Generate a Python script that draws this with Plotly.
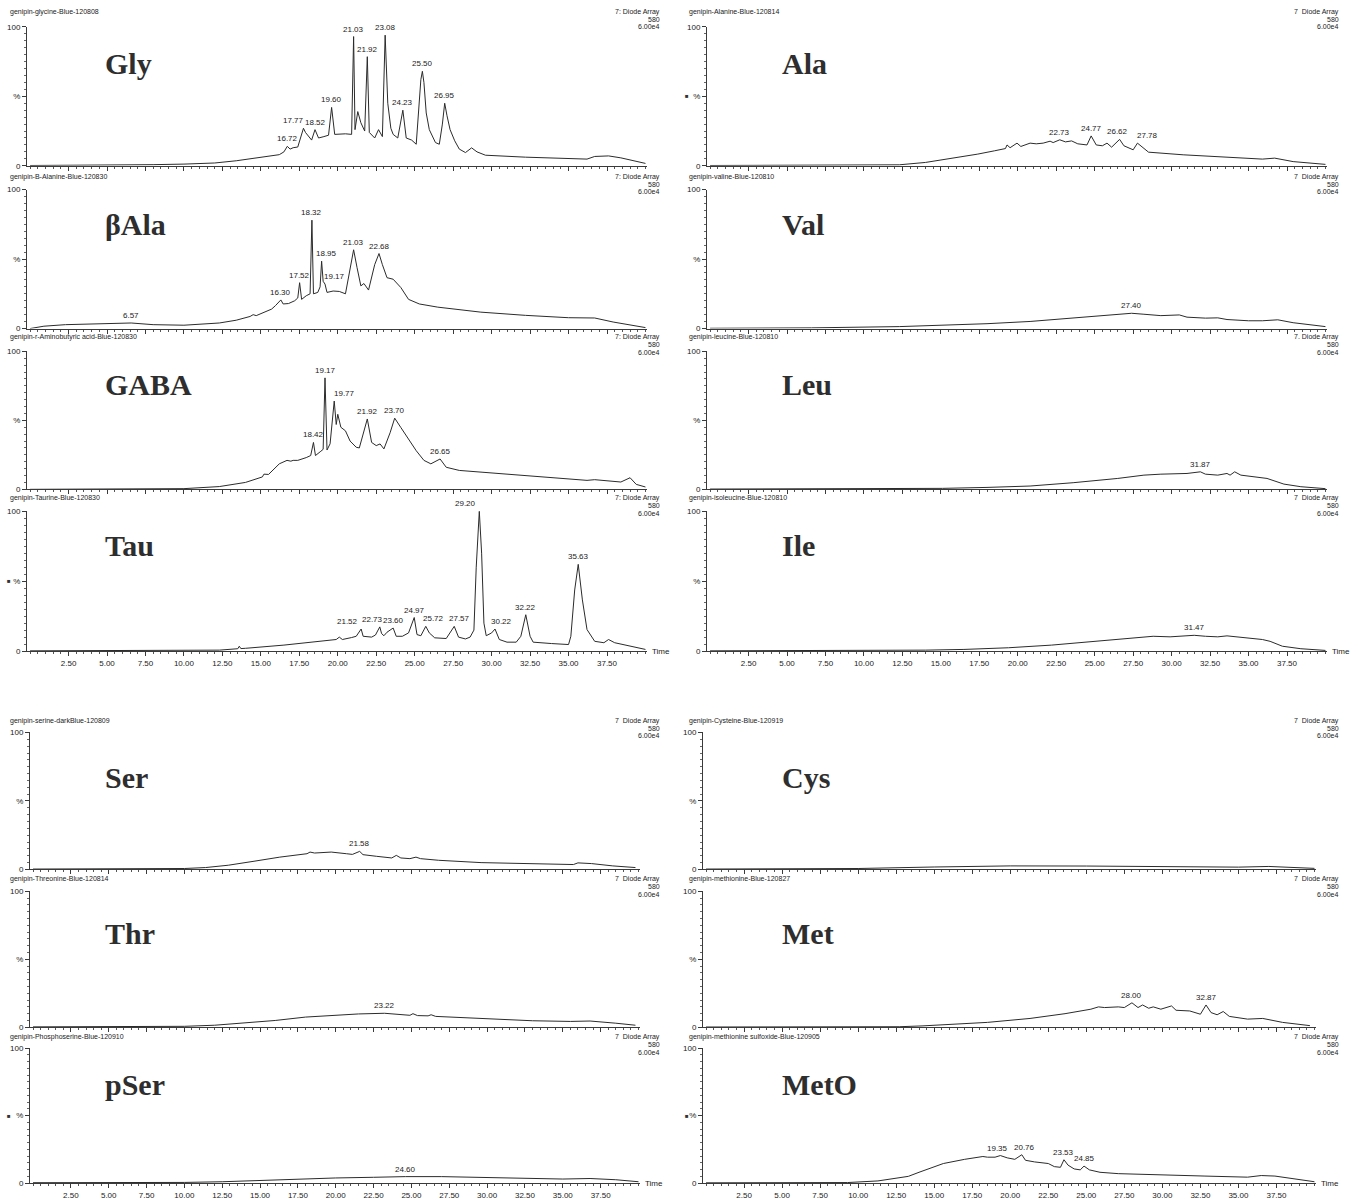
import plotly.graph_objects as go

W, H = 1357, 1201

# ---------------- chromatogram data: retention time (min) / relative intensity (%) ----------------
GLY_T = [0, 3, 6, 8, 10, 12, 13.4, 15.1, 16.2, 16.5, 16.72, 16.9, 17.1, 17.4, 17.6, 17.77, 17.9, 18.1, 18.3,
         18.52, 18.75, 19.1, 19.4, 19.6, 19.8, 20.5, 20.9, 21.03, 21.12, 21.3, 21.5, 21.75, 21.92, 22.05, 22.4,
         22.65, 22.9, 23.08, 23.25, 23.45, 23.6, 23.9, 24.23, 24.45, 24.8, 25.1, 25.3, 25.4, 25.5, 25.6, 25.75,
         25.95, 26.35, 26.6, 26.8, 26.95, 27.1, 27.3, 27.6, 27.9, 28.3, 28.7, 29.05, 29.6, 32.2, 35.0, 36.2,
         36.7, 37.6, 38.4, 40.0]
GLY_I = [0.2, 0.3, 0.5, 0.8, 1.2, 2.0, 3.6, 6.0, 8.0, 10.0, 14.0, 12.0, 13.0, 13.5, 21.0, 27.0, 24.0, 21.0, 18.5,
         26.0, 20.0, 21.0, 22.0, 42.0, 22.6, 23.0, 22.6, 93.0, 26.0, 39.0, 31.0, 25.0, 78.5, 24.0, 20.0,
         26.0, 21.0, 94.0, 45.0, 27.0, 22.6, 20.0, 40.0, 20.0, 18.5, 15.5, 45.0, 62.0, 68.0, 60.0, 38.0,
         26.0, 16.7, 15.5, 30.0, 45.0, 36.0, 26.0, 18.0, 12.0, 9.5, 12.9, 10.0, 7.6, 6.2, 5.0, 4.8,
         6.7, 7.1, 5.7, 1.7]
GLY_PEAKS = [16.72, 17.77, 18.52, 19.60, 21.03, 21.92, 23.08, 24.23, 25.50, 26.95]

BALA_T = [0, 0.9, 2.3, 5.1, 6.57, 8.0, 10.0, 12.3, 13.4, 14.3, 14.5, 14.7, 15.1, 15.7, 15.95, 16.30, 16.45, 16.8,
          17.2, 17.4, 17.52, 17.65, 17.95, 18.2, 18.32, 18.42, 18.7, 18.85, 18.95, 19.05, 19.17, 19.3, 19.7,
          20.1, 20.5, 20.8, 21.03, 21.25, 21.5, 21.7, 22.0, 22.4, 22.68, 22.9, 23.2, 23.6, 24.1, 24.6, 25.3,
          26.5, 29.3, 32.2, 35.0, 36.7, 37.9, 40.0]
BALA_I = [0, 1.7, 2.8, 3.5, 4.0, 2.8, 2.4, 4.0, 6.0, 8.7, 10.0, 9.3, 11.0, 14.0, 16.5, 20.6, 17.7, 18.0,
          20.0, 22.0, 33.0, 21.0, 23.6, 25.0, 78.0, 25.0, 26.0, 30.0, 48.5, 34.0, 32.0, 26.0, 27.0,
          26.7, 25.0, 44.0, 56.7, 44.0, 30.7, 32.4, 27.7, 46.0, 54.0, 46.0, 36.6, 35.5, 29.5, 21.0, 17.7,
          15.4, 11.8, 9.5, 7.8, 7.6, 4.7, 0.7]
BALA_PEAKS = [6.57, 16.30, 17.52, 18.32, 18.95, 19.17, 21.03, 22.68]

GABA_T = [0, 5, 10.0, 12.3, 14.0, 15.1, 15.2, 15.5, 16.2, 16.7, 16.95, 17.1, 17.4, 17.95, 18.24, 18.42, 18.55,
          18.9, 19.05, 19.17, 19.3, 19.5, 19.77, 19.9, 20.0, 20.2, 20.5, 20.8, 21.2, 21.4, 21.92, 22.2, 22.5,
          22.75, 23.0, 23.4, 23.70, 24.1, 24.6, 25.1, 25.6, 26.05, 26.65, 27.05, 27.9, 29.3, 32.2, 35.0, 36.2,
          36.7, 38.4, 39.0, 39.4, 40.0]
GABA_I = [0, 0.2, 0.5, 2.0, 5.0, 9.0, 11.0, 10.8, 18.5, 21.0, 20.4, 21.0, 21.0, 23.0, 24.5, 34.0, 24.5,
          27.6, 29.0, 80.8, 28.5, 33.0, 64.0, 47.0, 54.4, 45.0, 42.4, 35.0, 30.5, 30.0, 51.0, 34.0, 31.7,
          32.9, 29.3, 41.0, 51.6, 44.8, 36.5, 28.0, 21.0, 18.5, 22.0, 16.0, 13.7, 12.5, 10.0, 7.7, 6.5,
          7.0, 5.3, 8.4, 3.6, 1.7]
GABA_PEAKS = [18.42, 19.17, 19.77, 21.92, 23.70, 26.65]

TAU_T = [0, 5, 10, 12.3, 13.5, 13.6, 13.7, 14.0, 16.5, 18.5, 19.4, 19.9, 20.1, 20.3, 20.9, 21.2, 21.52, 21.65,
         22.2, 22.45, 22.73, 22.85, 23.0, 23.2, 23.60, 23.8, 24.2, 24.6, 24.97, 25.15, 25.4, 25.72, 25.95, 26.3,
         27.05, 27.3, 27.57, 27.85, 28.3, 28.6, 28.85, 29.0, 29.20, 29.35, 29.5, 29.65, 30.0, 30.22, 30.5, 31.0,
         31.6, 31.9, 32.22, 32.5, 32.7, 33.9, 35.0, 35.15, 35.4, 35.63, 35.9, 36.2, 36.7, 37.3, 37.6, 38.0,
         38.9, 40.0]
TAU_I = [0.2, 0.3, 0.4, 0.7, 1.7, 3.5, 1.8, 2.0, 4.3, 6.4, 7.8, 8.3, 10.0, 8.3, 9.7, 10.6, 15.8, 10.6,
         10.0, 11.5, 17.3, 12.5, 11.0, 13.5, 16.5, 10.6, 10.6, 13.0, 24.0, 11.8, 11.0, 17.7, 13.0, 9.5,
         9.0, 13.0, 17.7, 10.0, 8.7, 10.0, 15.0, 60.0, 100.0, 70.0, 20.0, 11.0, 13.0, 15.8, 8.3, 6.4,
         6.4, 10.6, 26.0, 10.6, 6.4, 5.4, 4.7, 10.6, 43.7, 62.0, 36.6, 15.4, 7.0, 6.0, 8.3, 6.0,
         4.0, 1.2]
TAU_PEAKS = [21.52, 22.73, 23.60, 24.97, 25.72, 27.57, 29.20, 30.22, 32.22, 35.63]

ALA_T = [0, 5, 10, 12.3, 14.0, 15.7, 17.4, 18.5, 19.2, 19.3, 19.5, 19.95, 20.2, 20.8, 21.2, 21.65, 22.1, 22.3,
         22.73, 23.1, 23.5, 23.9, 24.5, 24.77, 25.1, 25.5, 25.8, 26.1, 26.62, 26.9, 27.5, 27.78, 28.5, 30.75,
         33.6, 35.9, 36.7, 37.9, 40.0]
ALA_I = [0.2, 0.3, 0.5, 0.7, 2.4, 5.3, 8.4, 10.8, 12.4, 15.0, 13.0, 16.3, 13.9, 16.3, 15.8, 16.3, 17.7, 16.7,
         18.7, 17.2, 17.9, 15.8, 15.0, 21.5, 15.0, 14.4, 16.3, 13.4, 19.0, 14.4, 11.5, 16.3, 9.8, 7.9,
         6.0, 4.8, 5.5, 3.0, 1.0]
ALA_PEAKS = [22.73, 24.77, 26.62, 27.78]

VAL_T = [0, 3, 6.6, 12.3, 15.1, 18.0, 20.8, 23.6, 25.3, 26.5, 27.40, 28.2, 29.3, 30.5, 31.0, 32.2, 33.0, 33.6,
         35.0, 35.9, 36.9, 37.9, 40.0]
VAL_I = [0.2, 0.3, 0.5, 1.4, 2.3, 3.5, 5.1, 7.7, 9.3, 10.0, 11.0, 10.3, 9.3, 9.8, 8.2, 7.5, 7.7, 6.5,
         5.6, 5.6, 6.3, 4.2, 1.4]
VAL_PEAKS = [27.40]

LEU_T = [0, 5, 10, 15.1, 18.0, 20.8, 23.6, 26.5, 28.2, 29.3, 31.0, 31.87, 32.2, 33.0, 33.6, 33.8, 34.1, 34.5,
         36.2, 37.3, 38.4, 40.0]
LEU_I = [0.2, 0.3, 0.5, 0.7, 1.4, 2.4, 4.8, 7.9, 10.3, 11.0, 11.5, 12.7, 11.0, 10.3, 11.5, 10.3, 12.7, 10.3,
         7.9, 3.8, 1.9, 0.5]
LEU_PEAKS = [31.87]

ILE_T = [0, 5, 10, 14, 16.5, 19.4, 22.2, 25.1, 27.9, 28.8, 29.9, 31.47, 32.2, 33.0, 33.6, 34.7, 35.9, 36.4,
         37.2, 38.4, 40.0]
ILE_I = [0.2, 0.3, 0.5, 0.7, 1.2, 2.4, 4.3, 7.0, 9.5, 10.6, 10.2, 11.3, 10.6, 10.2, 10.9, 9.5, 8.3, 7.0,
         3.5, 1.7, 0.5]
ILE_PEAKS = [31.47]

SER_T = [0, 5, 10.0, 11.4, 12.9, 14.6, 16.3, 18.1, 18.3, 18.6, 19.7, 20.7, 21.1, 21.58, 21.8, 22.7, 23.7, 24.0,
         24.3, 24.9, 25.3, 25.6, 26.8, 29.6, 32.5, 35.7, 36.0, 36.9, 38.3, 39.8]
SER_I = [0.3, 0.4, 0.7, 1.4, 3.1, 6.0, 9.0, 11.5, 12.7, 12.0, 12.7, 11.5, 11.0, 13.2, 10.8, 9.6, 8.4, 10.3,
         8.4, 7.9, 9.0, 7.9, 6.7, 5.0, 4.3, 3.6, 4.8, 4.3, 2.6, 1.4]
SER_PEAKS = [21.58]

THR_T = [0, 5, 10, 12, 14, 16, 18, 20, 21.5, 23.22, 24, 24.9, 25.1, 25.4, 26.1, 26.3, 26.6, 28, 30, 33, 35.5,
         36.8, 38.5, 39.8]
THR_I = [0.3, 0.4, 0.7, 1.5, 3.0, 5.0, 7.5, 9.0, 9.8, 10.3, 9.6, 8.8, 10.0, 8.6, 8.4, 9.2, 8.0, 7.2, 6.0,
         4.8, 4.3, 4.6, 3.0, 1.5]
THR_PEAKS = [23.22]

PSER_T = [0, 5, 6.8, 7.2, 10, 12.5, 15, 17.5, 20, 22.5, 24.60, 27, 30, 33, 35, 36.8, 38.5, 40.0]
PSER_I = [0.3, 0.3, 0.8, 0.3, 0.5, 1.0, 2.0, 3.0, 3.8, 4.3, 4.8, 4.8, 4.0, 3.3, 3.0, 3.4, 2.5, 1.0]
PSER_PEAKS = [24.60]

CYS_T = [0, 5, 10, 15, 20, 25, 30, 35, 37, 40]
CYS_I = [0.3, 0.4, 0.7, 1.8, 2.6, 2.5, 2.0, 1.7, 2.2, 0.8]
CYS_PEAKS = []

MET_T = [0, 5, 10, 12.7, 14.2, 15.6, 18.5, 21.3, 23.6, 25.3, 25.8, 26.2, 27.1, 27.5, 28.00, 28.4, 28.7, 29.1,
         29.4, 29.9, 30.3, 30.6, 30.9, 31.8, 32.5, 32.87, 33.2, 33.6, 34.0, 34.4, 35.6, 36.6, 37.9, 39.7]
MET_I = [0.2, 0.2, 0.3, 0.4, 1.0, 1.7, 3.6, 6.5, 10.0, 13.3, 15.0, 14.5, 15.0, 14.5, 18.0, 14.5, 16.4, 14.0,
         15.0, 13.3, 14.5, 15.7, 12.5, 12.0, 9.6, 16.4, 10.8, 9.2, 11.6, 8.0, 6.0, 6.5, 3.6, 1.2]
MET_PEAKS = [28.00, 32.87]

METO_T = [0, 5, 9.3, 11.3, 13.3, 14.0, 15.6, 17.0, 18.2, 18.5, 19.0, 19.35, 19.8, 20.3, 20.76, 21.0, 21.6, 22.5,
          22.9, 23.3, 23.53, 23.8, 24.2, 24.6, 24.85, 25.2, 25.9, 27.1, 29.9, 32.8, 35.6, 36.5, 37.4, 38.5, 40.0]
METO_I = [0.2, 0.2, 0.4, 1.6, 5.0, 8.0, 14.5, 17.6, 19.7, 19.2, 19.2, 20.4, 18.7, 17.6, 21.0, 16.9, 15.7, 14.5,
          12.2, 11.7, 17.3, 13.3, 10.5, 9.8, 12.6, 9.8, 8.0, 7.0, 5.9, 5.2, 4.4, 5.6, 5.2, 3.3, 1.0]
METO_PEAKS = [19.35, 20.76, 23.53, 24.85]

TIME_TICKS = [2.5 * k for k in range(1, 16)]
TIME_TICK_TEXT = ["%.2f" % v for v in TIME_TICKS]

# ---------------- page geometry (pixels) ----------------
COL_X = {"top": [(27, 647), (707, 1327)], "bot": [(30, 640), (703, 1316)]}
ROW_Y = {"top": [(23, 163), (187, 327), (350, 489), (511, 652)],
         "bot": [(734, 872), (894, 1031), (1052, 1188)]}
HEAD_Y = {"top": [8, 174, 336, 498], "bot": [722, 882, 1041]}
BIG_Y = {"top": [60, 222, 383, 546], "bot": [779, 937, 1089]}
MARK_X = [5, 683]

panels = [
    ("Gly", "genipin-glycine-Blue-120808", "7: Diode Array", GLY_T, GLY_I, GLY_PEAKS, "top", 0, 0, False),
    ("βAla", "genipin-B-Alanine-Blue-120830", "7: Diode Array", BALA_T, BALA_I, BALA_PEAKS, "top", 0, 1, False),
    ("GABA", "genipin-r-Aminobutyric acid-Blue-120830", "7: Diode Array", GABA_T, GABA_I, GABA_PEAKS, "top", 0, 2, False),
    ("Tau", "genipin-Taurine-Blue-120830", "7: Diode Array", TAU_T, TAU_I, TAU_PEAKS, "top", 0, 3, True),
    ("Ala", "genipin-Alanine-Blue-120814", "7  Diode Array", ALA_T, ALA_I, ALA_PEAKS, "top", 1, 0, True),
    ("Val", "genipin-valine-Blue-120810", "7  Diode Array", VAL_T, VAL_I, VAL_PEAKS, "top", 1, 1, False),
    ("Leu", "genipin-leucine-Blue-120810", "7. Diode Array", LEU_T, LEU_I, LEU_PEAKS, "top", 1, 2, False),
    ("Ile", "genipin-isoleucine-Blue-120810", "7  Diode Array", ILE_T, ILE_I, ILE_PEAKS, "top", 1, 3, False),
    ("Ser", "genipin-serine-darkBlue-120809", "7  Diode Array", SER_T, SER_I, SER_PEAKS, "bot", 0, 0, False),
    ("Thr", "genipin-Threonine-Blue-120814", "7  Diode Array", THR_T, THR_I, THR_PEAKS, "bot", 0, 1, False),
    ("pSer", "genipin-Phosphoserine-Blue-120910", "7  Diode Array", PSER_T, PSER_I, PSER_PEAKS, "bot", 0, 2, True),
    ("Cys", "genipin-Cysteine-Blue-120919", "7  Diode Array", CYS_T, CYS_I, CYS_PEAKS, "bot", 1, 0, False),
    ("Met", "genipin-methionine-Blue-120827", "7  Diode Array", MET_T, MET_I, MET_PEAKS, "bot", 1, 1, False),
    ("MetO", "genipin-methionine sulfoxide-Blue-120905", "7  Diode Array", METO_T, METO_I, METO_PEAKS, "bot", 1, 2, True),
]

# small horizontal nudges (px) for crowded peak labels
LABEL_NUDGE = {("Gly", 17.77): -10, ("βAla", 18.95): 5, ("βAla", 19.17): 9, ("GABA", 19.77): 10,
               ("Tau", 21.52): -14, ("Tau", 22.73): -7, ("Tau", 25.72): 8, ("Tau", 27.57): 5,
               ("Tau", 29.20): -14, ("Tau", 30.22): 6, ("Ala", 27.78): 10, ("Ala", 26.62): -2,
               ("MetO", 20.76): 3, ("MetO", 19.35): -3}

INK = "#2b2b2b"
AX = "#3a3a3a"
SANS = "Liberation Sans, Arial, sans-serif"
SERIF = "Liberation Serif, Times New Roman, serif"

fig = go.Figure()
layout = {}
annotations = []

for k, (name, header, det, ts, vals, peaks, block, col, row, mark) in enumerate(panels, start=1):
    x0, x1 = COL_X[block][col]
    ytop, ybot = ROW_Y[block][row]
    last_row = row == len(ROW_Y[block]) - 1
    xa = "x" if k == 1 else f"x{k}"
    ya = "y" if k == 1 else f"y{k}"

    fig.add_trace(go.Scatter(x=ts, y=vals, mode="lines", xaxis=xa, yaxis=ya,
                             line=dict(color=INK, width=1), showlegend=False, hoverinfo="skip"))

    layout["xaxis" if k == 1 else f"xaxis{k}"] = dict(
        domain=[x0 / W, x1 / W], range=[-0.2, 40.1], anchor=ya,
        showline=True, linecolor=AX, linewidth=1, showgrid=False, zeroline=False,
        ticks="outside", ticklen=4, tickwidth=1, tickcolor=AX,
        tickvals=TIME_TICKS, ticktext=TIME_TICK_TEXT, showticklabels=last_row,
        tickfont=dict(family=SANS, size=8, color="#222"),
        minor=dict(dtick=0.5, tick0=0, ticks="outside", ticklen=2, tickcolor="#555", tickwidth=1),
        fixedrange=True)
    layout["yaxis" if k == 1 else f"yaxis{k}"] = dict(
        domain=[1 - ybot / H, 1 - ytop / H], range=[0, 100], anchor=xa,
        showline=True, linecolor=AX, linewidth=1, showgrid=False, zeroline=False,
        ticks="outside", ticklen=4, tickwidth=1, tickcolor=AX,
        tickvals=[0, 50, 100], ticktext=["0", "%", "100"],
        tickfont=dict(family=SANS, size=8, color="#222"),
        minor=dict(dtick=5, ticks="outside", ticklen=2, tickcolor="#666", tickwidth=1),
        fixedrange=True)

    # file name (left) and detector block (right) above each trace
    hy = HEAD_Y[block][row]
    left_edge = 8 if col == 0 else 687
    right_edge = 662 if col == 0 else 1341
    annotations.append(dict(xref="paper", yref="paper", x=left_edge / W, y=1 - hy / H, text=header,
                            showarrow=False, xanchor="left", yanchor="middle",
                            font=dict(family=SANS, size=7, color="#222")))
    for j, line in enumerate([det, "580", "6.00e4"]):
        annotations.append(dict(xref="paper", yref="paper", x=right_edge / W, y=1 - (hy + 7.5 * j) / H,
                                text=line, showarrow=False, xanchor="right", yanchor="middle",
                                font=dict(family=SANS, size=7, color="#222")))

    # compound name
    bx = 103 if col == 0 else 780
    annotations.append(dict(xref="paper", yref="paper", x=bx / W, y=1 - BIG_Y[block][row] / H,
                            text="<b>%s</b>" % name, showarrow=False, xanchor="left", yanchor="middle",
                            font=dict(family=SERIF, size=30, color="#2e2e2e")))

    if mark:
        annotations.append(dict(xref="paper", yref="paper", x=MARK_X[col] / W,
                                y=1 - (ytop + ybot) / 2 / H, text="■", showarrow=False,
                                xanchor="left", yanchor="middle", font=dict(family=SANS, size=6, color="#333")))

    if last_row:
        annotations.append(dict(xref="paper", yref="paper", x=(x1 + 3) / W, y=1 - ybot / H, text="Time",
                                showarrow=False, xanchor="left", yanchor="middle",
                                font=dict(family=SANS, size=8, color="#222")))

    # retention-time labels at each apex
    lookup = dict(zip(ts, vals))
    for p in peaks:
        annotations.append(dict(xref=xa, yref=ya, x=p, y=lookup[p], text="%.2f" % p, showarrow=False,
                                xanchor="center", yanchor="bottom", yshift=1,
                                xshift=LABEL_NUDGE.get((name, p), 0),
                                font=dict(family=SANS, size=8, color="#222")))

layout.update(dict(width=W, height=H, margin=dict(l=0, r=0, t=0, b=0), autosize=False,
                   paper_bgcolor="white", plot_bgcolor="white", annotations=annotations,
                   showlegend=False))
fig.update_layout(**layout)
fig.write_html("out.html", config={"displayModeBar": False})
